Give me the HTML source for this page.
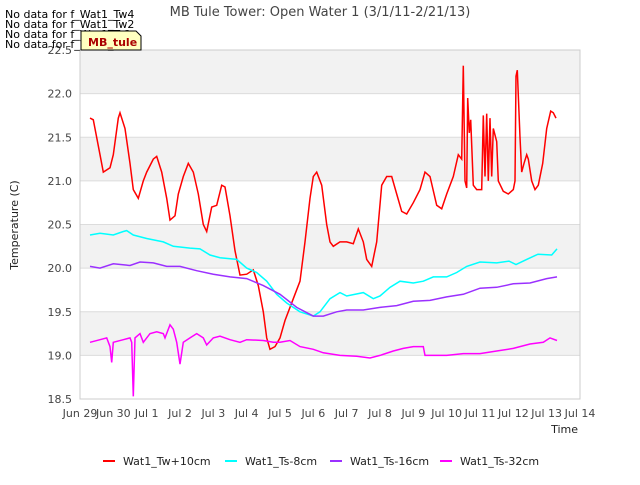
<!DOCTYPE html>
<html><head><meta charset="utf-8"><style>
body{margin:0;background:#fff;font-family:"Liberation Sans","DejaVu Sans",sans-serif}
svg text{font-family:"DejaVu Sans","Liberation Sans",sans-serif}
</style></head><body>
<svg id="c" width="640" height="480" viewBox="0 0 640 480"></svg>
<script>
const xTicks=[29,30,31,32,33,34,35,36,37,38,39,40,41,42,43,44];
const xTickLabels=["Jun 29","Jun 30","Jul 1","Jul 2","Jul 3","Jul 4","Jul 5","Jul 6","Jul 7","Jul 8","Jul 9","Jul 10","Jul 11","Jul 12","Jul 13","Jul 14"];
const yTicks=[18.5,19.0,19.5,20.0,20.5,21.0,21.5,22.0,22.5];
const seriesNames=["Wat1_Tw+10cm","Wat1_Ts-8cm","Wat1_Ts-16cm","Wat1_Ts-32cm"];
const seriesColors=["#ff0000","#00ffff","#9b30ff","#ff00ff"];
const tw=[[29.3,21.72],[29.4,21.7],[29.6,21.3],[29.7,21.1],[29.9,21.15],[30.0,21.3],[30.15,21.72],[30.2,21.78],[30.35,21.6],[30.5,21.2],[30.6,20.9],[30.75,20.8],[30.9,21.0],[31.0,21.1],[31.2,21.25],[31.3,21.28],[31.45,21.1],[31.6,20.8],[31.7,20.55],[31.85,20.6],[31.95,20.85],[32.1,21.05],[32.25,21.2],[32.4,21.1],[32.55,20.85],[32.7,20.5],[32.8,20.42],[32.95,20.7],[33.1,20.72],[33.25,20.95],[33.35,20.93],[33.5,20.6],[33.65,20.2],[33.8,19.92],[34.0,19.93],[34.2,19.98],[34.35,19.8],[34.5,19.5],[34.6,19.2],[34.7,19.07],[34.85,19.1],[35.0,19.2],[35.15,19.4],[35.4,19.65],[35.6,19.85],[35.75,20.3],[35.9,20.8],[36.0,21.05],[36.1,21.1],[36.25,20.95],[36.4,20.5],[36.5,20.3],[36.6,20.25],[36.8,20.3],[37.0,20.3],[37.2,20.28],[37.35,20.45],[37.5,20.3],[37.6,20.1],[37.75,20.02],[37.9,20.3],[38.05,20.95],[38.2,21.05],[38.35,21.05],[38.5,20.85],[38.65,20.65],[38.8,20.62],[39.0,20.75],[39.2,20.9],[39.35,21.1],[39.5,21.05],[39.7,20.72],[39.85,20.68],[40.0,20.85],[40.2,21.05],[40.35,21.3],[40.45,21.25],[40.5,22.32],[40.55,21.0],[40.6,20.92],[40.63,21.95],[40.68,21.55],[40.72,21.7],[40.8,20.95],[40.9,20.9],[41.05,20.9],[41.1,21.75],[41.15,21.05],[41.2,21.77],[41.25,21.0],[41.3,21.72],[41.35,21.05],[41.4,21.6],[41.5,21.45],[41.55,21.0],[41.7,20.88],[41.85,20.85],[42.0,20.9],[42.05,21.0],[42.08,22.2],[42.12,22.27],[42.2,21.5],[42.25,21.1],[42.32,21.2],[42.4,21.3],[42.45,21.25],[42.55,21.0],[42.65,20.9],[42.75,20.95],[42.88,21.2],[43.0,21.6],[43.12,21.8],[43.2,21.78],[43.28,21.72]];
const ts8=[[29.3,20.38],[29.6,20.4],[30.0,20.38],[30.3,20.42],[30.4,20.43],[30.6,20.38],[31.0,20.34],[31.5,20.3],[31.8,20.25],[32.3,20.23],[32.6,20.22],[32.9,20.15],[33.2,20.12],[33.7,20.1],[34.0,20.0],[34.3,19.95],[34.6,19.85],[34.9,19.7],[35.2,19.6],[35.6,19.5],[36.0,19.45],[36.2,19.5],[36.5,19.65],[36.8,19.72],[37.0,19.68],[37.5,19.72],[37.8,19.65],[38.0,19.68],[38.3,19.78],[38.6,19.85],[39.0,19.83],[39.3,19.85],[39.6,19.9],[40.0,19.9],[40.3,19.95],[40.6,20.02],[41.0,20.07],[41.5,20.06],[41.87,20.08],[42.08,20.04],[42.4,20.1],[42.74,20.16],[43.15,20.15],[43.31,20.22]];
const ts16=[[29.3,20.02],[29.6,20.0],[30.0,20.05],[30.5,20.03],[30.8,20.07],[31.2,20.06],[31.6,20.02],[32.0,20.02],[32.5,19.97],[33.0,19.93],[33.5,19.9],[34.0,19.88],[34.5,19.8],[35.0,19.7],[35.5,19.55],[36.0,19.45],[36.3,19.45],[36.7,19.5],[37.0,19.52],[37.5,19.52],[38.0,19.55],[38.5,19.57],[39.0,19.62],[39.5,19.63],[40.0,19.67],[40.5,19.7],[41.0,19.77],[41.5,19.78],[42.0,19.82],[42.5,19.83],[43.0,19.88],[43.31,19.9]];
const ts32=[[29.3,19.15],[29.6,19.18],[29.8,19.2],[29.9,19.1],[29.95,18.92],[30.0,19.15],[30.3,19.18],[30.5,19.2],[30.55,19.15],[30.6,18.53],[30.65,19.2],[30.8,19.25],[30.9,19.15],[31.1,19.25],[31.3,19.27],[31.5,19.25],[31.55,19.2],[31.7,19.35],[31.8,19.3],[31.9,19.15],[32.0,18.9],[32.1,19.15],[32.3,19.2],[32.5,19.25],[32.7,19.2],[32.8,19.12],[33.0,19.2],[33.2,19.22],[33.5,19.18],[33.8,19.15],[34.0,19.18],[34.5,19.17],[34.8,19.15],[35.0,19.15],[35.3,19.17],[35.6,19.1],[36.0,19.07],[36.3,19.03],[36.8,19.0],[37.3,18.99],[37.7,18.97],[38.0,19.0],[38.4,19.05],[38.7,19.08],[39.0,19.1],[39.3,19.1],[39.35,19.0],[39.7,19.0],[40.0,19.0],[40.5,19.02],[41.0,19.02],[41.5,19.05],[42.0,19.08],[42.5,19.13],[42.9,19.15],[43.1,19.2],[43.31,19.17]];
const allSeries=[tw,ts8,ts16,ts32];

const NS="http://www.w3.org/2000/svg",svg=document.getElementById('c');
const L=80,R=580,T=50,B=399;
const xs=d=>L+(d-29)/(44-29)*(R-L);
const ys=v=>B-(v-18.5)/(22.5-18.5)*(B-T);
function mk(tag,at,par){const e=document.createElementNS(NS,tag);for(const k in at)e.setAttribute(k,at[k]);(par||svg).appendChild(e);return e;}
for(let i=0;i<yTicks.length-1;i++){if(i%2===1){const r=mk('rect',{x:L,y:ys(yTicks[i+1]),width:R-L,height:ys(yTicks[i])-ys(yTicks[i+1]),fill:'#f2f2f2'});}}
yTicks.forEach(v=>{const g=mk('line',{x1:L,x2:R,y1:ys(v),y2:ys(v),stroke:'#dcdcdc'});
const t=mk('text',{x:L-8,y:ys(v)+4,'text-anchor':'end','font-size':11,fill:'#444'});t.textContent=v.toFixed(1);});
const fr=mk('rect',{x:L,y:T,width:R-L,height:B-T,fill:'none',stroke:'#ccc'});
xTicks.forEach((d,i)=>{const t=mk('text',{x:xs(d),y:B+18,'text-anchor':'middle','font-size':11,fill:'#444'});t.textContent=xTickLabels[i];});
allSeries.forEach((s,i)=>{const p=mk('polyline',{points:s.map(q=>xs(q[0]).toFixed(1)+','+ys(q[1]).toFixed(1)).join(' '),fill:'none',stroke:seriesColors[i],'stroke-width':1.5});});
const ttl=mk('text',{x:320,y:16,'text-anchor':'middle','font-size':13,fill:'#444'});ttl.textContent="MB Tule Tower: Open Water 1 (3/1/11-2/21/13)";
const xt=mk('text',{x:578,y:433,'text-anchor':'end','font-size':11,fill:'#222'});xt.textContent="Time";
const yt=mk('text',{x:18,y:225,'text-anchor':'middle','font-size':11,fill:'#222',transform:'rotate(-90 18 225)'});yt.textContent="Temperature (C)";
["No data for f_Wat1_Tw4","No data for f_Wat1_Tw2","No data for f_Wat1_Ts2","No data for f_Wat1_Ts4"].forEach((s,i)=>{const t=mk('text',{x:5,y:18+i*10,'font-size':11,fill:'#000'});t.textContent=s;});
const tb=mk('path',{d:'M81 31 H136 L141 36 V50 H81 Z',fill:'#ffffc0',stroke:'#000'});
const tt=mk('text',{x:88,y:46,'font-size':11,fill:'#aa0000','font-weight':'bold'});tt.textContent="MB_tule";
const lx=[103,225,330,440];
seriesNames.forEach((n,i)=>{const g=mk('g',{});
mk('line',{x1:lx[i],x2:lx[i]+12,y1:461,y2:461,stroke:seriesColors[i],'stroke-width':2},g);
const t=mk('text',{x:lx[i]+20,y:465,'font-size':11,fill:'#222'},g);t.textContent=n;});
</script>
</body></html>
